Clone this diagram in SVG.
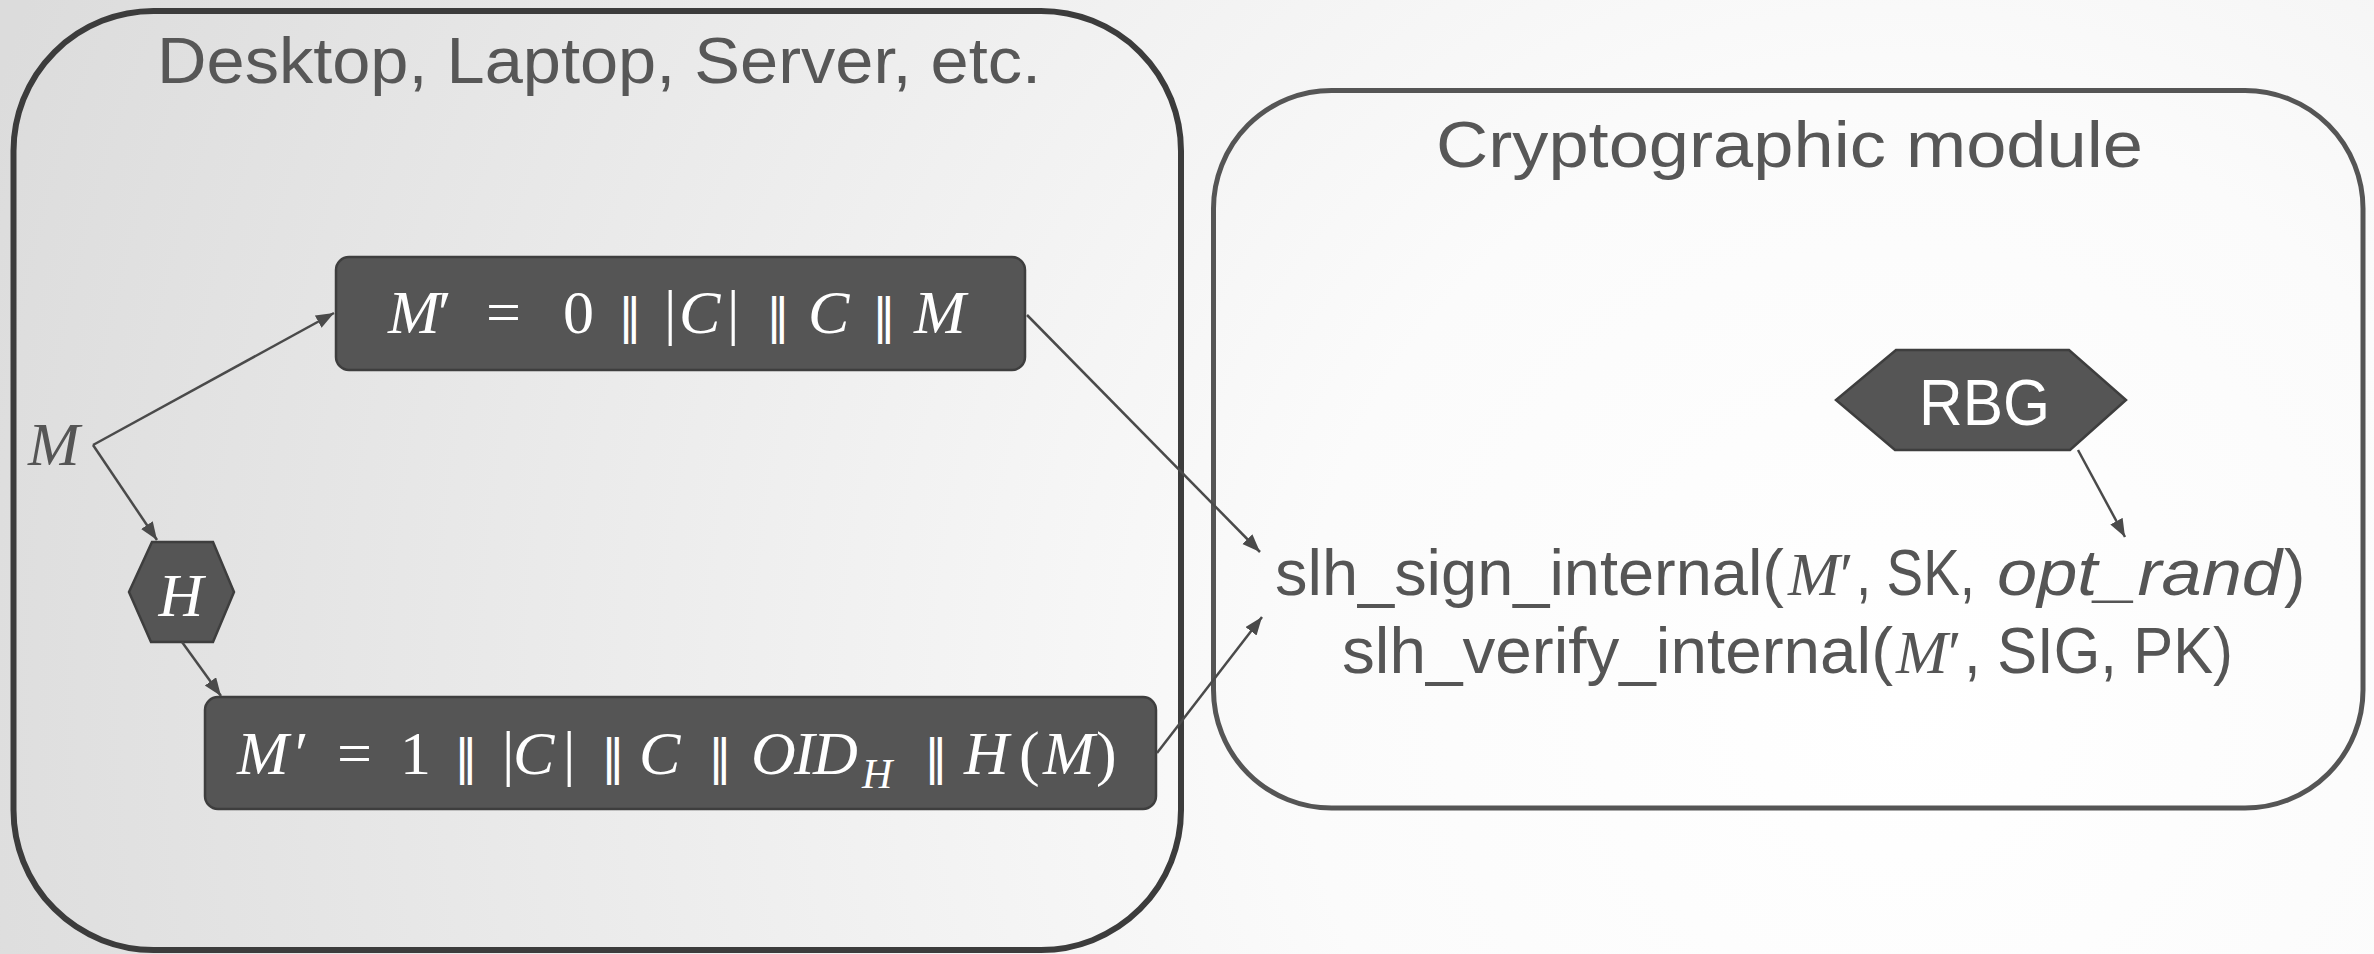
<svg xmlns="http://www.w3.org/2000/svg" width="2374" height="954" viewBox="0 0 2374 954">
  <defs>
    <radialGradient id="bg" gradientUnits="userSpaceOnUse" cx="1900" cy="700" r="2000">
      <stop offset="0" stop-color="#ffffff"/>
      <stop offset="0.3" stop-color="#fbfbfb"/>
      <stop offset="1" stop-color="#dcdcdc"/>
    </radialGradient>
    <marker id="arrow" markerUnits="userSpaceOnUse" markerWidth="20" markerHeight="16" refX="18" refY="7" orient="auto">
      <path d="M0,0 L18,7 L0,14 Z" fill="#4a4a4a"/>
    </marker>
    <style>
      .frame { fill: none; }
      .title { font-family: "Liberation Sans", Arial, sans-serif; font-size: 64px; fill: #575757; }
      .node { fill: #555555; stroke: #3e3e3e; stroke-width: 2.5; }
      .math { font-family: "Liberation Serif", "DejaVu Serif", serif; font-size: 62px; }
      .it { font-style: italic; }
      .sub { font-size: 42px; }
      .par { font-family: "DejaVu Sans", sans-serif; font-size: 48px; font-style: normal; }
      .white { fill: #ffffff; }
      .grey { fill: #555555; }
      .sans { font-family: "Liberation Sans", Arial, sans-serif; font-size: 64px; }
      .edge { stroke: #4a4a4a; stroke-width: 2.5; fill: none; marker-end: url(#arrow); }
    </style>
  </defs>

  <!-- background -->
  <rect x="0" y="0" width="2374" height="954" fill="url(#bg)"/>

  <!-- host system container -->
  <g id="host">
    <rect class="frame" x="13.5" y="11" width="1167.5" height="939" rx="140" ry="140" stroke="#3c3c3c" stroke-width="6"/>
    <text class="title" x="157" y="83" textLength="884" lengthAdjust="spacingAndGlyphs">Desktop, Laptop, Server, etc.</text>
  </g>

  <!-- cryptographic module container -->
  <g id="module">
    <rect class="frame" x="1213.5" y="90.5" width="1149.5" height="717.5" rx="118" ry="118" stroke="#555555" stroke-width="5"/>
    <text class="title" x="1436" y="167" textLength="707" lengthAdjust="spacingAndGlyphs">Cryptographic module</text>
  </g>

  <!-- input message -->
  <g id="msg">
    <text class="math it grey" x="28" y="465">M</text>
  </g>

  <!-- pure encoding -->
  <g id="pure">
    <rect class="node" x="336" y="257" width="689" height="113" rx="13" ry="13"/>
    <text class="math white" y="333">
      <tspan class="it" x="388">M</tspan><tspan x="438">′</tspan><tspan x="486">=</tspan><tspan x="563">0</tspan><tspan class="par" x="618">‖</tspan><tspan x="664">|</tspan><tspan class="it" x="679">C</tspan><tspan x="727">|</tspan><tspan class="par" x="766">‖</tspan><tspan class="it" x="808">C</tspan><tspan class="par" x="872">‖</tspan><tspan class="it" x="914">M</tspan>
    </text>
  </g>

  <!-- hash function -->
  <g id="hash">
    <polygon class="node" points="152,542 213,542 234,592 213,642 151,642 129,592"/>
    <text class="math it white" x="181" y="616" text-anchor="middle" font-size="64">H</text>
  </g>

  <!-- pre-hash encoding -->
  <g id="prehash">
    <rect class="node" x="205" y="697" width="951" height="112" rx="13" ry="13"/>
    <text class="math white" y="774">
      <tspan class="it" x="237">M</tspan><tspan x="295">′</tspan><tspan x="337">=</tspan><tspan x="400">1</tspan><tspan class="par" x="454">‖</tspan><tspan x="502">|</tspan><tspan class="it" x="513">C</tspan><tspan x="563">|</tspan><tspan class="par" x="601">‖</tspan><tspan class="it" x="639">C</tspan><tspan class="par" x="708">‖</tspan><tspan class="it" x="751">O</tspan><tspan class="it" x="794">I</tspan><tspan class="it" x="813">D</tspan><tspan class="it sub" x="862" y="788">H</tspan><tspan class="par" x="924" y="774">‖</tspan><tspan class="it" x="964">H</tspan><tspan x="1019">(</tspan><tspan class="it" x="1043">M</tspan><tspan x="1096">)</tspan>
    </text>
  </g>

  <!-- random bit generator -->
  <g id="rbg">
    <polygon class="node" points="1896,350 2069,350 2126,400 2070,450 1895,450 1836,400"/>
    <text class="sans white" x="1919" y="425" textLength="131" lengthAdjust="spacingAndGlyphs">RBG</text>
  </g>

  <!-- internal functions -->
  <g id="internal">
    <text class="sans grey" y="595"><tspan x="1275" textLength="509" lengthAdjust="spacingAndGlyphs">slh_sign_internal(</tspan><tspan class="math it" x="1788">M</tspan><tspan class="math" x="1840">′</tspan><tspan x="1856" textLength="119" lengthAdjust="spacingAndGlyphs">, SK,</tspan><tspan class="it" x="1997" textLength="285" lengthAdjust="spacingAndGlyphs">opt_rand</tspan><tspan x="2284">)</tspan></text>
    <text class="sans grey" y="673"><tspan x="1342" textLength="551" lengthAdjust="spacingAndGlyphs">slh_verify_internal(</tspan><tspan class="math it" x="1896">M</tspan><tspan class="math" x="1948">′</tspan><tspan x="1964" textLength="269" lengthAdjust="spacingAndGlyphs">, SIG, PK)</tspan></text>
  </g>

  <!-- connectors -->
  <g id="edges">
    <line class="edge" x1="93" y1="445" x2="334" y2="313"/>
    <line class="edge" x1="93" y1="445" x2="157" y2="540"/>
    <line class="edge" x1="182" y1="642" x2="221" y2="696"/>
    <line class="edge" x1="1027" y1="315" x2="1260" y2="552"/>
    <line class="edge" x1="1157" y1="753" x2="1262" y2="617"/>
    <line class="edge" x1="2078" y1="450" x2="2125" y2="537"/>
  </g>
</svg>
